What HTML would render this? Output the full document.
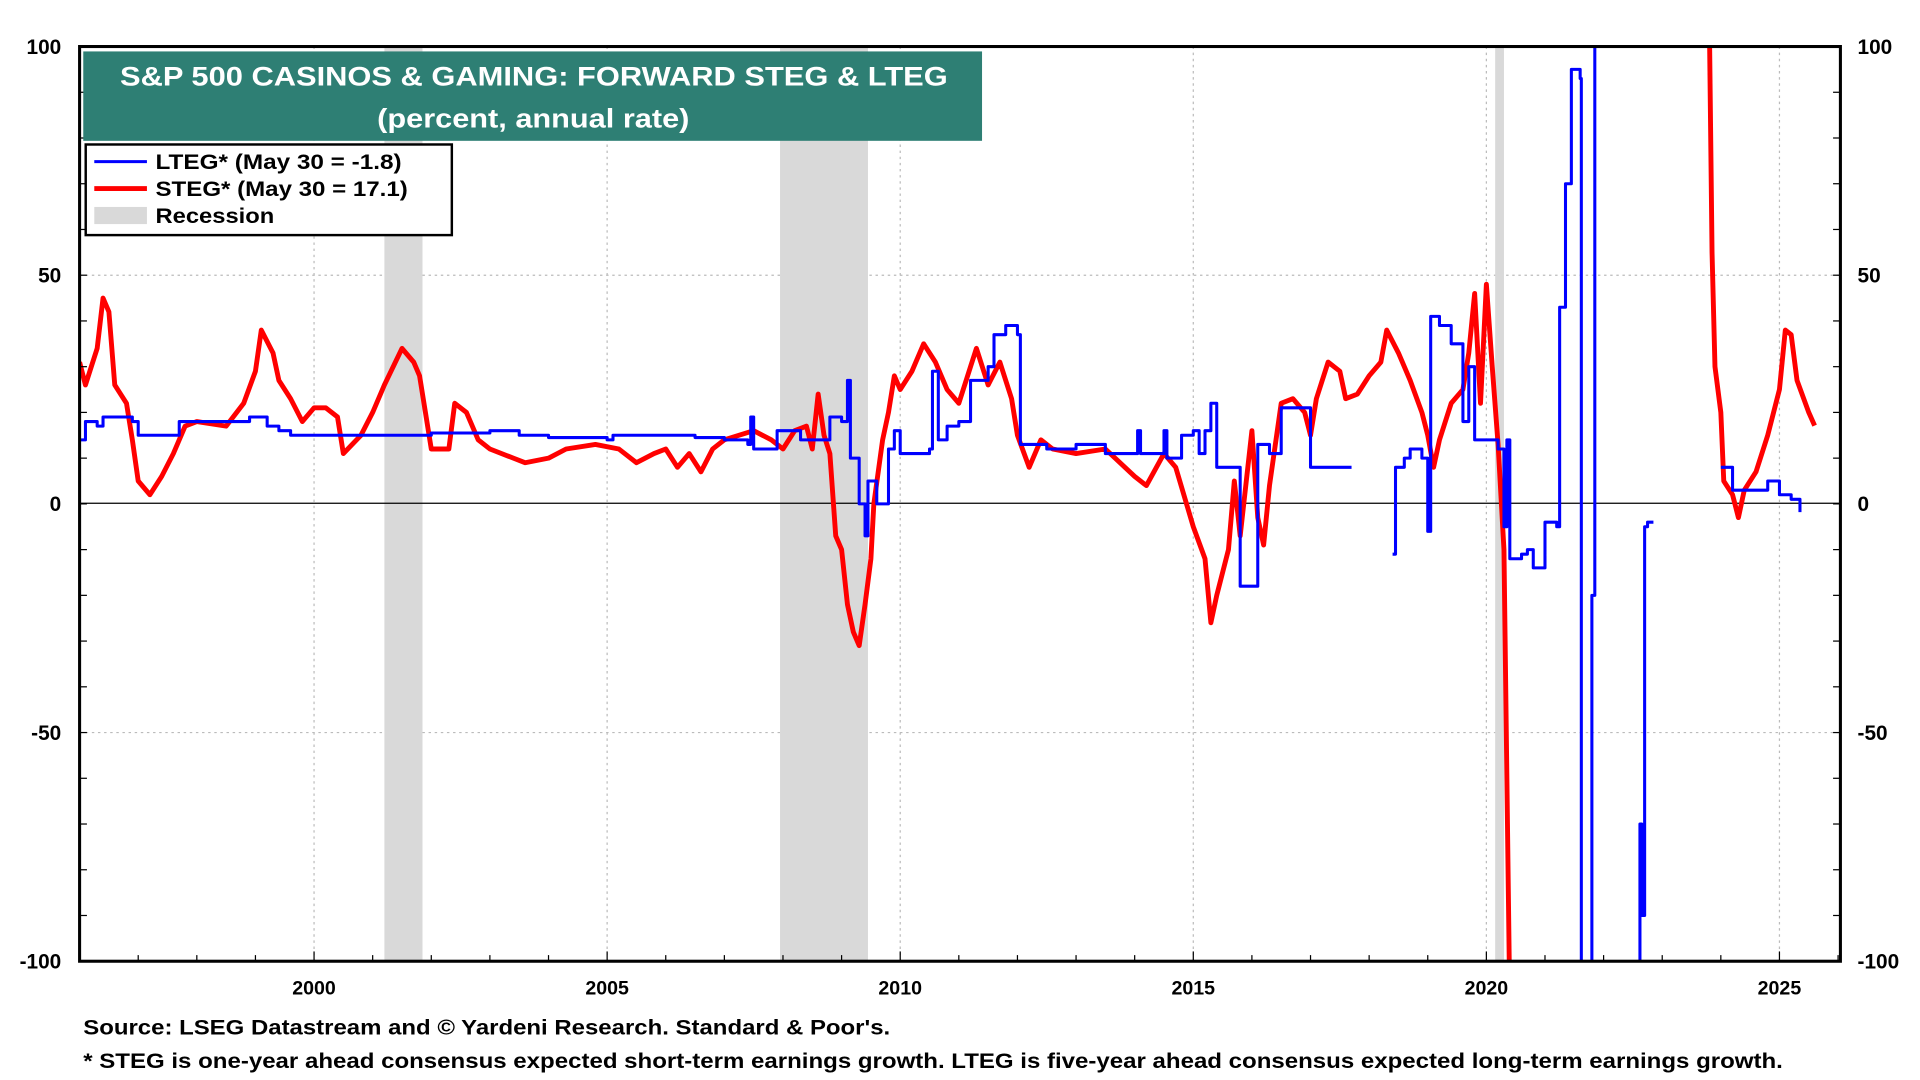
<!DOCTYPE html>
<html><head><meta charset="utf-8"><style>
html,body{margin:0;padding:0;background:#fff;}
svg{display:block;font-family:"Liberation Sans",Arial,sans-serif;}
</style></head><body>
<svg id="chart" width="1920" height="1080" viewBox="0 0 1568 882" preserveAspectRatio="none" xmlns="http://www.w3.org/2000/svg">
<defs><clipPath id="pc"><rect x="65" y="38" width="1438" height="747"/></clipPath></defs>
<g id="grid"></g>
<g id="rec" clip-path="url(#pc)"></g>
<line x1="65" x2="1503" y1="411" y2="411" stroke="#000" stroke-width="1"/>
<g id="series" clip-path="url(#pc)"></g>
<rect x="65" y="38" width="1438" height="747" fill="none" stroke="#000" stroke-width="2.5"/>
<g id="axes"></g>
<g>
<rect x="68" y="42" width="734" height="73" fill="#2e7f74"/>
<text x="98" y="70" fill="#fff" font-weight="bold" font-size="22" textLength="676" lengthAdjust="spacingAndGlyphs">S&amp;P 500 CASINOS &amp; GAMING: FORWARD STEG &amp; LTEG</text>
<text x="308" y="104" fill="#fff" font-weight="bold" font-size="22" textLength="255" lengthAdjust="spacingAndGlyphs">(percent, annual rate)</text>
</g>
<g font-weight="bold" font-size="17">
<rect x="70" y="118" width="299" height="74" fill="#fff" stroke="#000" stroke-width="2"/>
<line x1="77" x2="120" y1="132" y2="132" stroke="#0000ff" stroke-width="2.5"/>
<text x="127" y="138" textLength="201" lengthAdjust="spacingAndGlyphs">LTEG* (May 30 = -1.8)</text>
<line x1="77" x2="120" y1="154" y2="154" stroke="#ff0000" stroke-width="4"/>
<text x="127" y="160" textLength="206" lengthAdjust="spacingAndGlyphs">STEG* (May 30 = 17.1)</text>
<rect x="77" y="169" width="43" height="14" fill="#d9d9d9"/>
<text x="127" y="182" textLength="97" lengthAdjust="spacingAndGlyphs">Recession</text>
</g>
<text x="68" y="845" font-weight="bold" font-size="17" textLength="659" lengthAdjust="spacingAndGlyphs">Source: LSEG Datastream and © Yardeni Research. Standard &amp; Poor's.</text>
<text x="68" y="872" font-weight="bold" font-size="17" textLength="1388" lengthAdjust="spacingAndGlyphs">* STEG is one-year ahead consensus expected short-term earnings growth. LTEG is five-year ahead consensus expected long-term earnings growth.</text>
</svg>
<script>
const yTicks=[100,50,0,-50,-100];
const xTicks=[2000,2005,2010,2015,2020,2025];
const recStart=[2001.2,2007.95,2020.15];
const recEnd=[2001.85,2009.45,2020.3];
const ltegYears=[1996.0,1996.1,1996.3,1996.4,1996.9,1997.0,1997.6,1997.7,1998.5,1998.9,1999.2,1999.4,1999.6,2001,2002,2003,2003.5,2004,2005,2005.1,2006,2006.5,2007,2007.4,2007.45,2007.5,2007.9,2008.3,2008.6,2008.8,2009.0,2009.1,2009.15,2009.3,2009.4,2009.45,2009.6,2009.8,2009.9,2010.0,2010.5,2010.55,2010.65,2010.8,2011.0,2011.2,2011.5,2011.6,2011.8,2012.0,2012.05,2012.5,2013.0,2013.5,2014,2014.05,2014.1,2014.5,2014.55,2014.8,2015.0,2015.1,2015.2,2015.3,2015.4,2015.7,2015.8,2016.0,2016.1,2016.3,2016.5,2016.8,2017.0,2017.7,2017.8,2018.4,2018.45,2018.6,2018.7,2018.9,2019.0,2019.05,2019.2,2019.4,2019.6,2019.7,2019.8,2020.1,2020.2,2020.3,2020.35,2020.4,2020.6,2020.7,2020.8,2021.0,2021.2,2021.25,2021.35,2021.45,2021.6,2021.62,2021.78,2021.8,2021.85,2021.9,2022.6,2022.62,2022.65,2022.7,2022.72,2022.75,2022.85,2022.9,2024.0,2024.2,2024.6,2024.8,2025.0,2025.2,2025.35];
const ltegValues=[14,18,17,19,18,15,15,18,18,19,17,16,15,15,15.5,16,15,14.5,14,15,15,14.5,14,13,19,12,16,14,14,19,18,27,10,0,-7,5,0,12,16,11,12,29,14,17,18,27,30,37,39,37,13,12,13,11,11,16,11,16,10,15,16,11,16,22,8,8,-18,-18,13,11,21,21,8,8,null,-11,8,10,12,10,-6,41,39,35,18,30,14,14,12,-5,14,-12,-11,-10,-14,-4,-5,43,70,95,93,-110,-110,-20,110,null,-110,-70,-90,-5,-5,-4,-4,null,8,3,3,5,2,1,-1.8];
const stegYears=[1996.0,1996.1,1996.2,1996.3,1996.4,1996.5,1996.6,1996.8,1996.9,1997.0,1997.2,1997.4,1997.6,1997.8,1998.0,1998.5,1998.8,1999.0,1999.1,1999.3,1999.4,1999.6,1999.8,2000.0,2000.2,2000.4,2000.5,2000.8,2001.0,2001.2,2001.5,2001.7,2001.8,2001.9,2002.0,2002.3,2002.4,2002.6,2002.8,2003.0,2003.4,2003.6,2004.0,2004.3,2004.8,2005.2,2005.5,2005.8,2006.0,2006.2,2006.4,2006.6,2006.8,2007.0,2007.5,2007.8,2008.0,2008.2,2008.4,2008.5,2008.6,2008.7,2008.8,2008.9,2009.0,2009.1,2009.2,2009.3,2009.4,2009.5,2009.55,2009.7,2009.8,2009.9,2010.0,2010.2,2010.4,2010.6,2010.8,2011.0,2011.2,2011.3,2011.5,2011.7,2011.9,2012.0,2012.2,2012.4,2012.6,2013,2013.5,2014,2014.2,2014.5,2014.7,2015.0,2015.2,2015.3,2015.4,2015.6,2015.7,2015.8,2016.0,2016.1,2016.2,2016.3,2016.5,2016.7,2016.9,2017.0,2017.1,2017.3,2017.5,2017.6,2017.8,2018.0,2018.2,2018.3,2018.5,2018.7,2018.9,2019.0,2019.1,2019.2,2019.4,2019.6,2019.7,2019.8,2019.9,2020.0,2020.1,2020.2,2020.3,2020.35,2020.4,2020.42,2023.8,2023.85,2023.9,2024.0,2024.05,2024.2,2024.3,2024.4,2024.6,2024.8,2025.0,2025.1,2025.2,2025.3,2025.5,2025.6];
const stegValues=[31,26,30,34,45,42,26,22,14,5,2,6,11,17,18,17,22,29,38,33,27,23,18,21,21,19,11,15,20,26,34,31,28,20,12,12,22,20,14,12,10,9,10,12,13,12,9,11,12,8,11,7,12,14,16,14,12,16,17,12,24,15,11,-7,-10,-22,-28,-31,-22,-12,0,14,20,28,25,29,35,31,25,22,30,34,26,31,23,15,8,14,12,11,12,6,4,11,8,-5,-12,-26,-20,-10,5,-7,16,-3,-9,4,22,23,20,15,23,31,29,23,24,28,31,38,33,27,20,15,8,14,22,25,33,46,22,48,30,13,-10,-60,-110,null,110,55,30,20,5,2,-3,3,7,15,25,38,37,27,20,17.1];
const NS="http://www.w3.org/2000/svg";
const X0=65,X1=1503,Y0=38,Y1=785,yr0=1996.0,yr1=2026.04;
function xs(t){return X0+(t-yr0)/(yr1-yr0)*(X1-X0);}
function ys(v){return Y1-(v+100)/200*(Y1-Y0);}
function mk(tag,attrs,parent){const e=document.createElementNS(NS,tag);for(const k in attrs)e.setAttribute(k,attrs[k]);parent.appendChild(e);return e;}
const grid=document.getElementById('grid'),axes=document.getElementById('axes'),rec=document.getElementById('rec'),series=document.getElementById('series');
yTicks.forEach(v=>{
 if(v!==0&&v!==100&&v!==-100){const g=mk('line',{x1:X0,x2:X1,y1:ys(v),y2:ys(v),stroke:'#bbb','stroke-dasharray':'2,3'},grid);
 
 }
 const l=mk('text',{x:50,y:ys(v)+6,'text-anchor':'end','font-weight':'bold','font-size':17},axes);l.textContent=v;
 
 
 const r=mk('text',{x:1517,y:ys(v)+6,'font-weight':'bold','font-size':17},axes);r.textContent=v;
 
 
});
xTicks.forEach(t=>{
 const g=mk('line',{x1:xs(t),x2:xs(t),y1:Y0,y2:Y1,stroke:'#bbb','stroke-dasharray':'2,3'},grid);
 
 
 const l=mk('text',{x:xs(t),y:812,'text-anchor':'middle','font-weight':'bold','font-size':16},axes);l.textContent=t;
 
 
});
for(let t=1996;t<=2026;t++){const k=mk('line',{x1:xs(t),x2:xs(t),y1:Y1,y2:Y1-(t%5===0?8:5),stroke:'#000'},axes);
 
 }
for(let v=-100;v<=100;v+=10){[[X0,X0+6],[X1,X1-6]].forEach(p=>{const k=mk('line',{x1:p[0],x2:p[1],y1:ys(v),y2:ys(v),stroke:'#000'},axes);
 
 });}
recStart.forEach((s,i)=>{const r=mk('rect',{x:xs(s),y:Y0,width:xs(recEnd[i])-xs(s),height:Y1-Y0,fill:'#d9d9d9'},rec);
 
 });
function line(yrs,vals,color,w,name,step){
 let d='',pen=false;
 for(let i=0;i<yrs.length;i++){
  if(vals[i]===null){pen=false;continue;}
  const px=xs(yrs[i]),py=ys(vals[i]);
  if(!pen){d+='M'+px+','+py;pen=true;}
  else if(step){const prevY=ys(vals[i-1]);d+='L'+px+','+prevY+'L'+px+','+py;}
  else{d+='L'+px+','+py;}
 }
 const p=mk('path',{d:d,fill:'none',stroke:color,'stroke-width':w,'stroke-linejoin':'round'},series);
 
 
}
line(stegYears,stegValues,'#ff0000',4,'steg-line',false);
line(ltegYears,ltegValues,'#0000ff',2.5,'lteg-line',true);
</script>
</body></html>
